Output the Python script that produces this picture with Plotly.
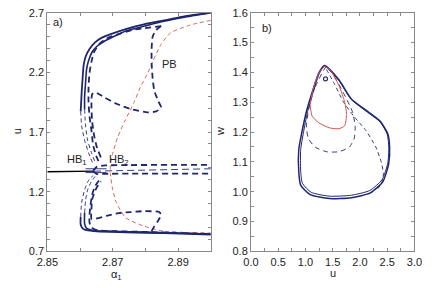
import plotly.graph_objects as go

NAVY = "#1f2670"
RED = "#d9534f"

# ---------------- panel a) : continuation in alpha_1 ----------------
ss_stable_a = [2.8500, 2.8643]
ss_stable_u = [1.367, 1.372]
ss_unstable_a = [2.8643, 2.9000]
ss_unstable_u = [1.372, 1.392]

hb1_max_a = [2.8640, 2.8652, 2.8680, 2.8750, 2.9000]
hb1_max_u = [1.375, 1.410, 1.420, 1.423, 1.425]
hb1_min_a = [2.8640, 2.8652, 2.8680, 2.8750, 2.9000]
hb1_min_u = [1.370, 1.348, 1.350, 1.351, 1.351]
hb1_stab_a = [2.8617, 2.8681]
hb1_stab_max_u = [1.392, 1.392]
hb1_stab_min_u = [1.360, 1.360]

s1_max_a = [2.8602, 2.8605, 2.8608, 2.8611, 2.8617, 2.8629, 2.8646, 2.8667, 2.8696, 2.8740, 2.8798, 2.8857, 2.8915, 2.9000]
s1_max_u = [1.873, 2.033, 2.154, 2.258, 2.331, 2.395, 2.451, 2.491, 2.523, 2.563, 2.604, 2.636, 2.668, 2.700]
s1_max_un_a = [2.8602, 2.8605, 2.8614, 2.8626, 2.8640]
s1_max_un_u = [1.873, 1.752, 1.632, 1.527, 1.431]

s2_max_a = [2.8614, 2.8614, 2.8617, 2.8620, 2.8626, 2.8637, 2.8652, 2.8673, 2.8702, 2.8740, 2.8798, 2.8857, 2.8915, 2.9000]
s2_max_u = [1.889, 1.993, 2.114, 2.226, 2.298, 2.371, 2.419, 2.459, 2.499, 2.547, 2.588, 2.628, 2.660, 2.700]
s2_max_un_a = [2.8614, 2.8617, 2.8623, 2.8635, 2.8646]
s2_max_un_u = [1.889, 1.752, 1.632, 1.527, 1.447]

d1_max_a = [2.8848, 2.8798, 2.8760, 2.8711, 2.8681, 2.8658, 2.8643, 2.8635, 2.8629, 2.8626, 2.8626, 2.8629, 2.8635, 2.8640, 2.8649, 2.8658]
d1_max_u = [2.588, 2.571, 2.555, 2.515, 2.483, 2.435, 2.371, 2.290, 2.194, 2.073, 1.953, 1.833, 1.712, 1.592, 1.503, 1.447]

pb_up_a = [2.8848, 2.8833, 2.8822, 2.8819, 2.8819, 2.8822, 2.8827, 2.8839, 2.8848, 2.8833, 2.8807, 2.8760, 2.8711, 2.8673, 2.8646, 2.8637, 2.8635, 2.8637, 2.8643, 2.8652, 2.8664]
pb_up_u = [2.588, 2.555, 2.499, 2.395, 2.274, 2.154, 2.049, 1.961, 1.905, 1.873, 1.865, 1.889, 1.937, 1.993, 2.033, 2.017, 1.913, 1.792, 1.672, 1.567, 1.487]

s1_min_a = [2.8602, 2.8602, 2.8608, 2.8620, 2.8652, 2.8740, 2.8857, 2.9000]
s1_min_u = [0.989, 0.925, 0.893, 0.877, 0.867, 0.860, 0.852, 0.841]
s1_min_un_a = [2.8602, 2.8605, 2.8614, 2.8626, 2.8640]
s1_min_un_u = [0.989, 1.110, 1.214, 1.294, 1.335]

s2_min_a = [2.8614, 2.8614, 2.8620, 2.8637, 2.8681, 2.8798, 2.9000]
s2_min_u = [1.021, 0.933, 0.893, 0.877, 0.869, 0.861, 0.845]
s2_min_un_a = [2.8614, 2.8617, 2.8623, 2.8635, 2.8646]
s2_min_un_u = [1.021, 1.126, 1.214, 1.286, 1.327]

d1_min_a = [2.8658, 2.8646, 2.8637, 2.8632, 2.8629, 2.8629, 2.8635, 2.8652, 2.8711, 2.8819, 2.8915, 2.9000]
d1_min_u = [1.294, 1.246, 1.174, 1.086, 1.005, 0.941, 0.901, 0.877, 0.869, 0.861, 0.853, 0.845]

pb_lo_a = [2.8819, 2.8827, 2.8839, 2.8848, 2.8842, 2.8798, 2.8754, 2.8719, 2.8681, 2.8646, 2.8635, 2.8635, 2.8637, 2.8646, 2.8655, 2.8664]
pb_lo_u = [0.869, 0.909, 0.957, 1.005, 1.029, 1.037, 1.029, 1.021, 0.997, 0.973, 0.973, 1.053, 1.134, 1.206, 1.254, 1.286]

red_a = [2.9000, 2.8936, 2.8877, 2.8848, 2.8822, 2.8807, 2.8784, 2.8766, 2.8737, 2.8714, 2.8699, 2.8693, 2.8693, 2.8699, 2.8711, 2.8740, 2.8798, 2.8857, 2.9000]
red_u = [2.636, 2.596, 2.531, 2.435, 2.290, 2.194, 2.073, 1.953, 1.792, 1.648, 1.511, 1.431, 1.351, 1.230, 1.110, 0.981, 0.909, 0.869, 0.853]

# ---------------- panel b) : phase plane (u, w) ----------------
outer_u = [1.351, 1.614, 1.842, 2.140, 2.368, 2.509, 2.544, 2.526, 2.421, 2.193, 1.842, 1.439, 1.088, 0.912, 0.877, 0.877, 0.930, 1.018, 1.140, 1.246, 1.351]
outer_w = [1.423, 1.375, 1.311, 1.269, 1.237, 1.195, 1.150, 1.092, 1.034, 0.996, 0.980, 0.977, 0.990, 1.022, 1.067, 1.141, 1.195, 1.269, 1.343, 1.398, 1.423]
inner_u = [1.351, 1.614, 1.842, 2.140, 2.368, 2.500, 2.530, 2.510, 2.405, 2.180, 1.842, 1.439, 1.105, 0.945, 0.912, 0.912, 0.960, 1.040, 1.155, 1.255, 1.351]
inner_w = [1.420, 1.372, 1.309, 1.266, 1.234, 1.193, 1.150, 1.095, 1.040, 1.004, 0.988, 0.985, 0.998, 1.028, 1.070, 1.141, 1.195, 1.269, 1.343, 1.396, 1.420]
pd_u = [1.386, 1.530, 1.700, 1.900, 2.110, 2.290, 2.390, 2.430, 2.400, 2.330]
pd_w = [1.410, 1.362, 1.300, 1.250, 1.205, 1.150, 1.100, 1.060, 1.030, 1.010]
small_u = [1.386, 1.175, 1.070, 1.018, 1.053, 1.175, 1.386, 1.614, 1.807, 1.895, 1.912, 1.860, 1.737, 1.596, 1.439, 1.386]
small_w = [1.420, 1.349, 1.285, 1.221, 1.179, 1.150, 1.134, 1.134, 1.150, 1.179, 1.221, 1.269, 1.317, 1.365, 1.410, 1.420]
red_loop_u = [1.351, 1.228, 1.140, 1.088, 1.123, 1.246, 1.439, 1.614, 1.719, 1.754, 1.719, 1.614, 1.456, 1.351]
red_loop_w = [1.420, 1.391, 1.343, 1.292, 1.253, 1.231, 1.214, 1.211, 1.221, 1.259, 1.301, 1.356, 1.407, 1.420]
eq_u = [1.368]
eq_w = [1.378]

fig = go.Figure()

def add(x, y, color, width, dash, xa="x", ya="y"):
    fig.add_trace(go.Scatter(x=x, y=y, mode="lines", xaxis=xa, yaxis=ya,
                             line=dict(color=color, width=width, dash=dash, shape="spline", smoothing=0.6),
                             hoverinfo="skip", showlegend=False))

THICKD = "6px,4px"
THIND = "4px,3px"

# panel a
add(red_a, red_u, RED, 0.9, THIND)
add(ss_stable_a, ss_stable_u, "black", 1.4, "solid")
add(ss_unstable_a, ss_unstable_u, NAVY, 0.9, "7px,4px")
add(hb1_stab_a, hb1_stab_max_u, NAVY, 0.9, "solid")
add(hb1_stab_a, hb1_stab_min_u, NAVY, 0.9, "solid")
add(hb1_max_a, hb1_max_u, NAVY, 1.8, THICKD)
add(hb1_min_a, hb1_min_u, NAVY, 1.8, THICKD)
add(s1_max_un_a, s1_max_un_u, NAVY, 0.9, THIND)
add(s2_max_un_a, s2_max_un_u, NAVY, 0.9, THIND)
add(s1_min_un_a, s1_min_un_u, NAVY, 0.9, THIND)
add(s2_min_un_a, s2_min_un_u, NAVY, 0.9, THIND)
add(d1_max_a, d1_max_u, NAVY, 1.8, THICKD)
add(pb_up_a, pb_up_u, NAVY, 1.8, THICKD)
add(d1_min_a, d1_min_u, NAVY, 1.8, THICKD)
add(pb_lo_a, pb_lo_u, NAVY, 1.8, THICKD)
add(s1_max_a, s1_max_u, NAVY, 1.8, "solid")
add(s2_max_a, s2_max_u, NAVY, 1.6, "solid")
add(s1_min_a, s1_min_u, NAVY, 1.8, "solid")
add(s2_min_a, s2_min_u, NAVY, 1.6, "solid")

# panel b
add(outer_u, outer_w, NAVY, 1.5, "solid", "x2", "y2")
add(inner_u, inner_w, NAVY, 1.0, "solid", "x2", "y2")
add(pd_u, pd_w, NAVY, 0.9, THIND, "x2", "y2")
add(small_u, small_w, NAVY, 0.9, "5px,4px", "x2", "y2")
add(red_loop_u, red_loop_w, RED, 1.0, "solid", "x2", "y2")
fig.add_trace(go.Scatter(x=eq_u, y=eq_w, mode="markers", xaxis="x2", yaxis="y2",
                         marker=dict(symbol="circle-open", size=4, color=NAVY, line=dict(width=1.2)),
                         hoverinfo="skip", showlegend=False))

TF = dict(family="Liberation Sans, Arial, sans-serif", size=11, color="#222")
axis_common = dict(showline=True, linecolor="#888", linewidth=1, mirror="allticks",
                   ticks="inside", ticklen=3, tickcolor="#888", showgrid=False, zeroline=False,
                   tickfont=TF)

fig.update_layout(
    width=432, height=288, margin=dict(l=0, r=0, t=0, b=0),
    paper_bgcolor="white", plot_bgcolor="white",
    xaxis=dict(domain=[38/432, 209/432], range=[2.85, 2.90], tick0=2.85, dtick=0.02, tickformat=".2f",
               minor=dict(dtick=0.01, tick0=2.85, ticks="inside", ticklen=3, tickcolor="#888"),
               anchor="y", **axis_common),
    yaxis=dict(domain=[1-256/288, 1-7/288], range=[0.7, 2.7], tick0=0.7, dtick=0.5, tickformat=".1f",
               minor=dict(dtick=0.1, tick0=0.7, ticks="inside", ticklen=3, tickcolor="#888"),
               anchor="x", **axis_common),
    xaxis2=dict(domain=[251/432, 422/432], range=[0, 3], tick0=0, dtick=0.5, tickformat=".1f",
                minor=dict(dtick=0.25, ticks="inside", ticklen=3, tickcolor="#888"),
                anchor="y2", **axis_common),
    yaxis2=dict(domain=[1-256/288, 1-7/288], range=[0.8, 1.6], tick0=0.8, dtick=0.1, tickformat=".1f",
                minor=dict(dtick=0.05, ticks="inside", ticklen=3, tickcolor="#888"),
                anchor="x2", **axis_common),
)

AF = dict(family="Liberation Sans, Arial, sans-serif", size=11, color="#222")
C = dict(showarrow=False, font=AF, xanchor="center", yanchor="middle")
ann = [
    dict(x=2.8534, y=2.62, xref="x", yref="y", text="a)", **C),
    dict(x=0.30, y=1.55, xref="x2", yref="y2", text="b)", **C),
    dict(x=2.8874, y=2.266, xref="x", yref="y", text="PB", **C),
    dict(x=2.8591, y=1.463, xref="x", yref="y", text="HB<sub>1</sub>", **C),
    dict(x=2.8720, y=1.463, xref="x", yref="y", text="HB<sub>2</sub>", **C),
    dict(x=110/432, y=1-281/288, xref="paper", yref="paper", text="α<sub>1</sub>", **C),
    dict(x=337/432, y=1-279/288, xref="paper", yref="paper", text="u", **C),
    dict(x=6/432, y=1-131/288, xref="paper", yref="paper", text="u", textangle=-90, **C),
    dict(x=218/432, y=1-131/288, xref="paper", yref="paper", text="w", textangle=-90, **C),
]
fig.update_layout(annotations=ann)

fig.write_html("out.html", config={"displayModeBar": False},
               post_script="document.body.style.margin='0';document.body.style.overflow='hidden';")
